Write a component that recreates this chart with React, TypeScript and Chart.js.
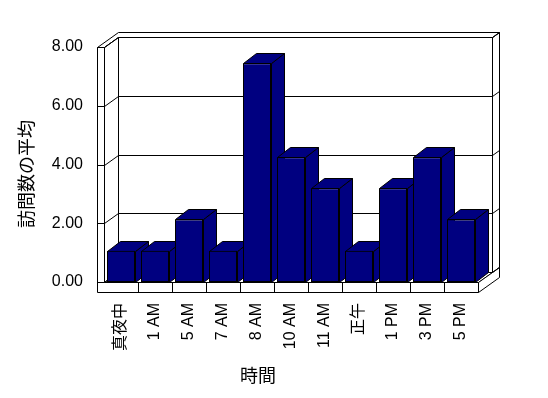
import React, { useEffect, useRef } from "react";
import { Chart, registerables } from "chart.js";

Chart.register(...registerables);

const categories = ["真夜中", "1 AM", "5 AM", "7 AM", "8 AM", "10 AM", "11 AM", "正午", "1 PM", "3 PM", "5 PM"];
const visitAverages = [1.06, 1.06, 2.13, 1.06, 7.45, 4.25, 3.19, 1.06, 3.19, 4.25, 2.13];
const yMin = 0;
const yMax = 8;
const yStep = 2;
const yAxisTitle = "訪問数の平均";
const xAxisTitle = "時間";

const BAR_COLOR = "#000080";
const WALL_DX = 14;
const WALL_DY = -10;
const THICK_DX = 7;
const THICK_DY = -5;
const FRONT_W = 7;
const FLOOR_H = 10;
const BAR_DX = 13;
const BAR_DY = -10;

const LATIN_FONT = '"Liberation Sans", Arial, "Noto Sans CJK JP", sans-serif';
const CJK_FONT = '"Noto Sans CJK JP", sans-serif';

const p = (v: number) => Math.round(v) + 0.5;

function poly(ctx: CanvasRenderingContext2D, pts: number[][], fill?: string) {
  ctx.beginPath();
  pts.forEach(([x, y], i) => (i ? ctx.lineTo(p(x), p(y)) : ctx.moveTo(p(x), p(y))));
  ctx.closePath();
  if (fill) {
    ctx.fillStyle = fill;
    ctx.fill();
  }
  ctx.stroke();
}

function polyline(ctx: CanvasRenderingContext2D, pts: number[][]) {
  ctx.beginPath();
  pts.forEach(([x, y], i) => (i ? ctx.lineTo(p(x), p(y)) : ctx.moveTo(p(x), p(y))));
  ctx.stroke();
}

const threeD = {
  id: "threeD",
  beforeDraw(chart: any) {
    const ctx = chart.ctx;
    ctx.save();
    ctx.fillStyle = "#fff";
    ctx.fillRect(0, 0, chart.width, chart.height);
    ctx.restore();
  },
  beforeDatasetsDraw(chart: any) {
    const ctx: CanvasRenderingContext2D = chart.ctx;
    const { left: L, right: R } = chart.chartArea;
    const ys = chart.scales.y;
    const xs = chart.scales.x;
    const T = ys.getPixelForValue(yMax);
    const B = ys.getPixelForValue(yMin);
    const BDX = WALL_DX + THICK_DX;
    const BDY = WALL_DY + THICK_DY;
    ctx.save();
    ctx.lineWidth = 1;
    ctx.strokeStyle = "#000";
    // back wall face
    poly(ctx, [[L + WALL_DX, T + WALL_DY], [R + WALL_DX, T + WALL_DY], [R + WALL_DX, B + WALL_DY], [L + WALL_DX, B + WALL_DY]], "#fff");
    // back wall right side
    poly(ctx, [[R + WALL_DX, T + WALL_DY], [R + BDX, T + BDY], [R + BDX, B + BDY], [R + WALL_DX, B + WALL_DY]], "#fff");
    // wall top
    poly(ctx, [[L - FRONT_W, T], [L, T], [L + WALL_DX, T + WALL_DY], [R + WALL_DX, T + WALL_DY], [R + BDX, T + BDY], [L - FRONT_W + BDX, T + BDY]], "#fff");
    // left wall inner face
    poly(ctx, [[L, T], [L + WALL_DX, T + WALL_DY], [L + WALL_DX, B + WALL_DY], [L, B]], "#fff");
    // floor top
    poly(ctx, [[L, B], [R, B], [R + WALL_DX, B + WALL_DY], [L + WALL_DX, B + WALL_DY]], "#fff");
    // floor right side
    poly(ctx, [[R, B], [R + BDX, B + BDY], [R + BDX, B + BDY + FLOOR_H], [R, B + FLOOR_H]], "#fff");
    // front faces (left wall + floor)
    poly(ctx, [[L - FRONT_W, T], [L, T], [L, B], [R, B], [R, B + FLOOR_H], [L - FRONT_W, B + FLOOR_H]], "#fff");
    // gridlines
    ys.ticks.forEach((t: any) => {
      const y = ys.getPixelForValue(t.value);
      polyline(ctx, [[L - FRONT_W, y], [L, y], [L + WALL_DX, y + WALL_DY], [R + WALL_DX, y + WALL_DY], [R + BDX, y + BDY]]);
    });
    // category dividers on the floor front
    for (let i = 1; i < categories.length; i++) {
      const x = (xs.getPixelForTick(i - 1) + xs.getPixelForTick(i)) / 2;
      polyline(ctx, [[x, B], [x, B + FLOOR_H]]);
    }
    // bar tops and sides
    const meta = chart.getDatasetMeta(0);
    meta.data.forEach((bar: any) => {
      const { x, y, base, width } = bar.getProps(["x", "y", "base", "width"], true);
      const l = x - width / 2;
      const r = x + width / 2;
      poly(ctx, [[r, y], [r + BAR_DX, y + BAR_DY], [r + BAR_DX, base + BAR_DY], [r, base]], BAR_COLOR);
      poly(ctx, [[l, y], [r, y], [r + BAR_DX, y + BAR_DY], [l + BAR_DX, y + BAR_DY]], BAR_COLOR);
    });
    ctx.restore();
  },
  afterDraw(chart: any) {
    const ctx: CanvasRenderingContext2D = chart.ctx;
    ctx.save();
    ctx.fillStyle = "#000";
    ctx.font = `18px ${CJK_FONT}`;
    ctx.textAlign = "center";
    ctx.textBaseline = "middle";
    ctx.translate(26, 174);
    ctx.rotate(-Math.PI / 2);
    ctx.fillText(yAxisTitle, 0, 0);
    ctx.restore();
    ctx.save();
    ctx.fillStyle = "#000";
    ctx.font = `18px ${CJK_FONT}`;
    ctx.textAlign = "center";
    ctx.textBaseline = "middle";
    ctx.fillText(xAxisTitle, 258, 375);
    ctx.restore();
  },
};

export default function App() {
  const ref = useRef<HTMLCanvasElement>(null);
  useEffect(() => {
    document.body.style.margin = "0";
    const canvas = ref.current!;
    const chart = new Chart(canvas, {
      type: "bar",
      data: {
        labels: categories,
        datasets: [
          {
            data: visitAverages,
            backgroundColor: BAR_COLOR,
            borderColor: "#000",
            borderWidth: 1,
            borderSkipped: false,
            barPercentage: 28 / 34,
            categoryPercentage: 1,
          },
        ],
      },
      options: {
        responsive: false,
        animation: false,
        devicePixelRatio: 1,
        layout: { padding: { left: 0, top: 47, right: 70, bottom: 0 } },
        plugins: { legend: { display: false }, tooltip: { enabled: false }, title: { display: false } },
        scales: {
          x: {
            grid: { display: false, drawTicks: false },
            border: { display: false },
            ticks: {
              minRotation: 90,
              maxRotation: 90,
              autoSkip: false,
              padding: 21,
              color: "#000",
              font: { family: LATIN_FONT, size: 16 },
            },
            afterFit: (s: any) => {
              s.height = 116;
            },
          },
          y: {
            min: yMin,
            max: yMax,
            grid: { display: false, drawTicks: false },
            border: { display: false },
            ticks: {
              stepSize: yStep,
              padding: 21,
              color: "#000",
              font: { family: LATIN_FONT, size: 16 },
              callback: (v: any) => Number(v).toFixed(2),
            },
            afterFit: (s: any) => {
              s.width = 104;
            },
          },
        },
      },
      plugins: [threeD],
    });
    return () => chart.destroy();
  }, []);
  return <canvas ref={ref} width={548} height={398} style={{ display: "block" }} />;
}
